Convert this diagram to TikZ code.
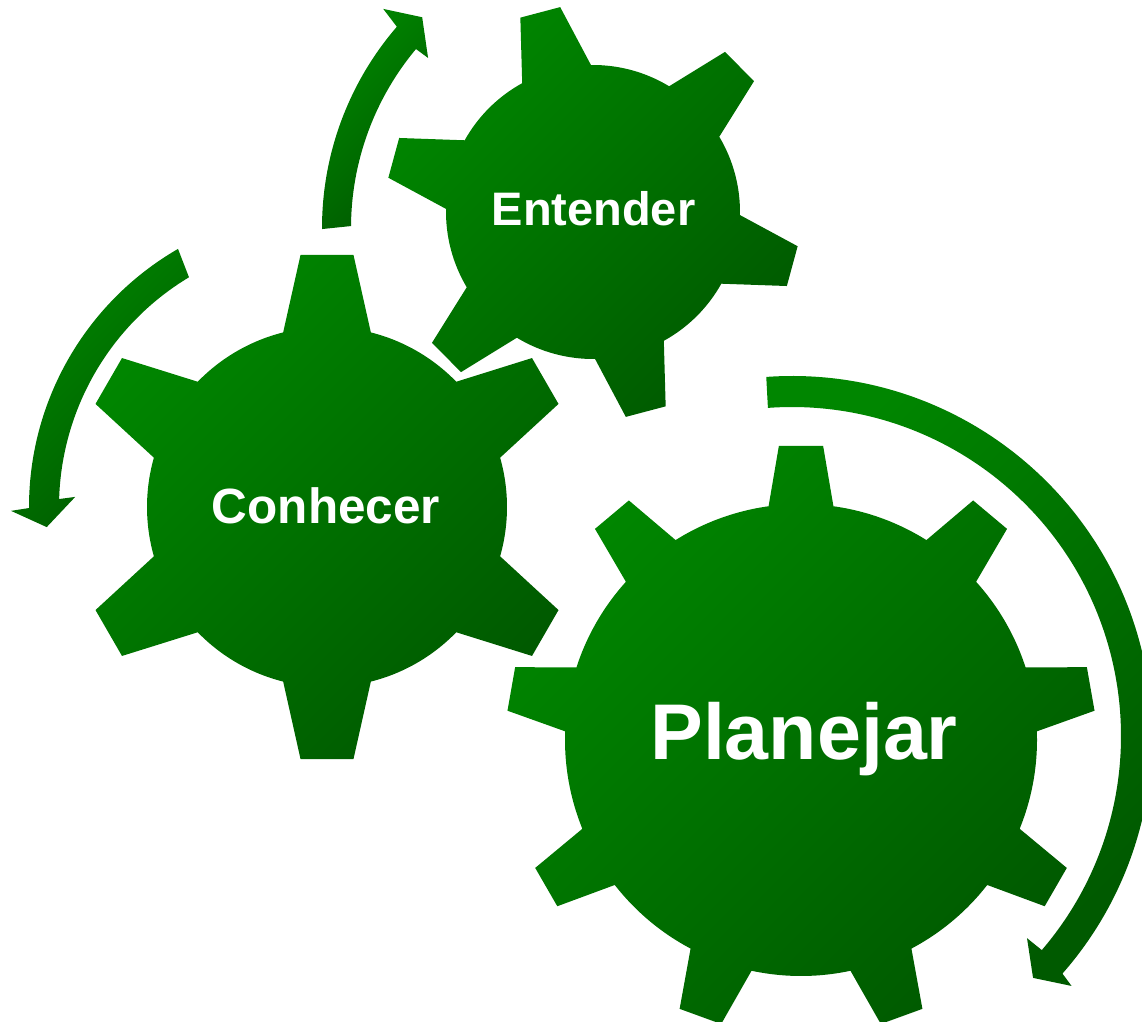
\documentclass[tikz,border=0pt]{standalone}
\usepackage{fontspec}
\setmainfont{Liberation Sans}
\usepackage{tikz}
\usetikzlibrary{calc}
\definecolor{gearlight}{RGB}{0,134,0}
\definecolor{geardark}{RGB}{0,90,0}
\tikzstyle{gear} = [top color=gearlight, bottom color=geardark, shading angle=45]
\tikzstyle{turn} = [top color=gearlight, bottom color=geardark, shading angle=45]
\tikzstyle{gearname} = [text=white, inner sep=0pt, anchor=base]
% center, teeth, offset, body radius, half base angle, tip radius, half tip angle
\newcommand{\drawgear}[7]{%
  \shade[gear, shift={#1}] (#3-#5:#4)
    \foreach \i [evaluate=\i as \a using #3+(\i-1)*360/#2] in {1,...,#2}{
      -- ({\a-#7}:#6) -- ({\a+#7}:#6) -- ({\a+#5}:#4)
      arc[start angle=\a+#5, end angle=\a+360/#2-#5, radius=#4]
    } -- cycle;}

\begin{document}
\begin{tikzpicture}[x=1pt,y=1pt]
    \useasboundingbox (0,0) rectangle (1142,1021);
    \clip (0,0) rectangle (1142,1021);
    % Place gears
    \coordinate (conhecer) at (327,514);
    \coordinate (entender) at (593,809);
    \coordinate (planejar) at (801,281);
    \drawgear{(conhecer)}{6}{90}{180}{14.1}{253.4}{6.0}
    \drawgear{(entender)}{6}{104.8}{147}{14}{207.5}{5.7}
    \drawgear{(planejar)}{9}{90}{236}{7.9}{295}{4.3}

    % Place arrows
    \coordinate (turnE) at (630,793);
    \coordinate (turnC) at (327,514);
    \coordinate (turnP) at (792,285);
    \shade[turn, shift={(turnE)}] (180.2:308) arc[start angle=180.2, end angle=139.2, radius=308]
        -- (138.4:330) -- (134.6:296) -- (139.9:264) -- (140.1:279)
        arc[start angle=140.1, end angle=179.6, radius=279] -- cycle;
    \shade[turn, shift={(turnC)}] (120:298) arc[start angle=120, end angle=180.2, radius=298]
        -- (180.7:316) -- (184.1:281) -- (177.7:252) -- (178.3:268)
        arc[start angle=178.3, end angle=121, radius=268] -- cycle;
    \shade[turn, shift={(turnP)}] (94.1:360) arc[start angle=94.1, end angle=-41.3, radius=360]
        -- (-41.8:375) -- (-45.1:341.5) -- (-40.7:310) -- (-40.6:329)
        arc[start angle=-40.6, end angle=94.2, radius=329] -- cycle;

    % Place labels
    \node[gearname, font=\bfseries\fontsize{49.5}{50}\selectfont] (conhecertxt) at (326,497) {Conhecer};
    \node[gearname, font=\bfseries\fontsize{47}{48}\selectfont] (entendertxt) at (593.5,795) {Entender};
    \node[gearname, font=\bfseries\fontsize{79}{80}\selectfont] (planejartxt) at (804,262) {Planejar};
\end{tikzpicture}
\end{document}
